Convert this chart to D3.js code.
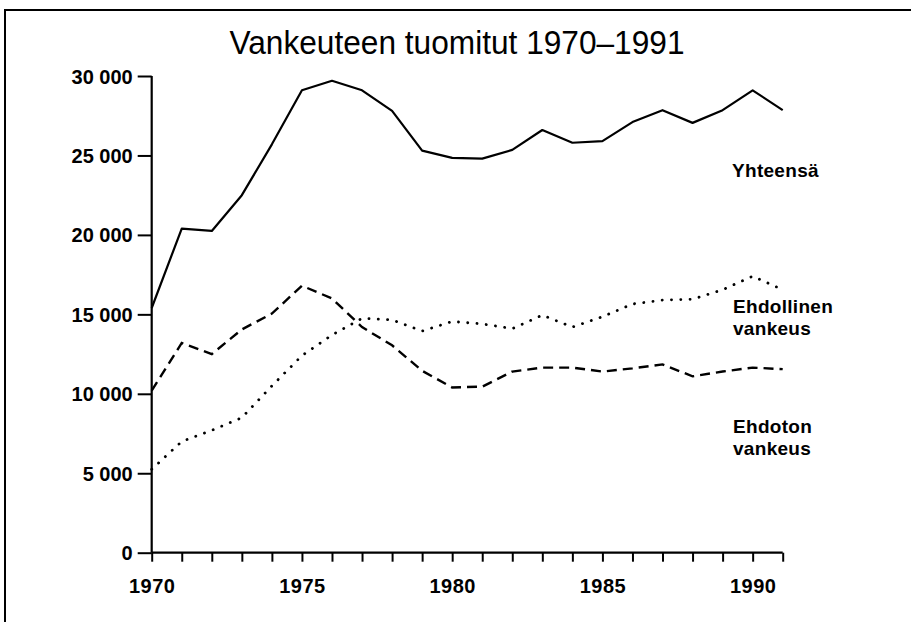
<!DOCTYPE html>
<html>
<head>
<meta charset="utf-8">
<script src="https://cdnjs.cloudflare.com/ajax/libs/d3/7.8.5/d3.min.js"></script>
<style>
	body { margin: 0; background: #fff; }
	svg { display: block; }
</style>
</head>
<body>
<div id="chart"></div>
<script>
// Data
var years = d3.range(1970, 1992);
var tickYears = [1970, 1975, 1980, 1985, 1990];
var yTicks = [0, 5000, 10000, 15000, 20000, 25000, 30000];

var yhteensa = [15400, 20400, 20250, 22500, 25700, 29100, 29700, 29100, 27800, 25300, 24850,
	24800, 25350, 26600, 25800, 25900, 27100, 27850, 27050, 27850, 29100, 27850];
var ehdoton = [10200, 13200, 12500, 14050, 15050, 16800, 16000, 14200, 13050, 11450, 10400,
	10450, 11400, 11650, 11650, 11400, 11600, 11850, 11100, 11400, 11650, 11550];
var ehdollinen = [5250, 7000, 7700, 8500, 10500, 12400, 13700, 14750, 14650, 13950, 14550,
	14400, 14100, 14950, 14200, 14850, 15650, 15900, 15950, 16550, 17400, 16550];

var title = 'Vankeuteen tuomitut 1970\u20131991';

var width = 911, height = 622;
var boldFont = '"Liberation Sans", Arial, Helvetica, sans-serif';

var svg = d3.select('#chart').append('svg')
	.attr('width', width)
	.attr('height', height);

// Frame (top and left edges only, like the scan)
svg.append('path')
	.attr('d', 'M5,622 V10 H911')
	.attr('fill', 'none')
	.attr('stroke', '#000')
	.attr('stroke-width', 2);

// Title
svg.append('text')
	.attr('x', 457)
	.attr('y', 54)
	.attr('text-anchor', 'middle')
	.attr('textLength', 455)
	.attr('lengthAdjust', 'spacingAndGlyphs')
	.style('font-family', '"Liberation Sans Narrow", "Arial Narrow", "Liberation Sans", sans-serif')
	.style('font-size', '33px')
	.text(title);

// Scales
var x = d3.scaleLinear().domain([1970, 1991]).range([151.7, 782.7]);
var y = d3.scaleLinear().domain([0, 30000]).range([552.7, 76]);

// X axis
var xAxis = svg.append('g')
	.attr('transform', 'translate(0,' + y(0) + ')')
	.call(d3.axisBottom(x)
		.tickValues(years)
		.tickSize(9)
		.tickPadding(6)
		.tickFormat(function(d) { return tickYears.indexOf(d) >= 0 ? d : ''; }));

// Y axis
var yAxis = svg.append('g')
	.attr('transform', 'translate(' + x(1970) + ',0)')
	.call(d3.axisLeft(y)
		.tickValues(yTicks)
		.tickSize(14)
		.tickPadding(5)
		.tickFormat(function(d) { return d3.format(',')(d).replace(',', ' '); }));

svg.selectAll('.domain').attr('stroke-width', 2.2);
svg.selectAll('.tick line').attr('stroke-width', 2);
svg.selectAll('.tick text')
	.style('font-family', boldFont)
	.style('font-weight', 'bold')
	.style('font-size', '20px')
	.attr('fill', '#000');
yAxis.selectAll('.tick text').attr('dy', '7px');
xAxis.selectAll('.tick text')
	.attr('dy', '25px')
	.style('letter-spacing', '0.5px');
// Axis paths without outer ticks
xAxis.select('.domain').attr('d', 'M' + x(1970) + ',0 H' + x(1991));
yAxis.select('.domain').attr('d', 'M0,' + y(0) + ' V' + y(30000));

// Lines
var line = d3.line()
	.x(function(d, i) { return x(years[i]); })
	.y(function(d) { return y(d); });

svg.append('path')
	.datum(yhteensa)
	.attr('d', line)
	.attr('fill', 'none')
	.attr('stroke', '#000')
	.attr('stroke-width', 2.2)
	.attr('stroke-linejoin', 'round');

svg.append('path')
	.datum(ehdoton)
	.attr('d', line)
	.attr('fill', 'none')
	.attr('stroke', '#000')
	.attr('stroke-width', 2.4)
	.attr('stroke-dasharray', '10,6');

svg.append('path')
	.datum(ehdollinen)
	.attr('d', line)
	.attr('fill', 'none')
	.attr('stroke', '#000')
	.attr('stroke-width', 2.8)
	.attr('stroke-linecap', 'round')
	.attr('stroke-dasharray', '0.1,9.2');

// Line labels
var labels = [
	{ lines: ['Yhteens\u00e4'], x: 732, y: 177 },
	{ lines: ['Ehdollinen', 'vankeus'], x: 733, y: 313 },
	{ lines: ['Ehdoton', 'vankeus'], x: 733, y: 433 }
];

labels.forEach(function(l) {
	var t = svg.append('text')
		.attr('x', l.x)
		.attr('y', l.y)
		.style('font-family', boldFont)
		.style('font-weight', 'bold')
		.style('font-size', '19px')
		.style('letter-spacing', '0.3px');
	l.lines.forEach(function(s, i) {
		t.append('tspan')
			.attr('x', l.x)
			.attr('dy', i === 0 ? 0 : 22)
			.text(s);
	});
});
</script>
</body>
</html>
